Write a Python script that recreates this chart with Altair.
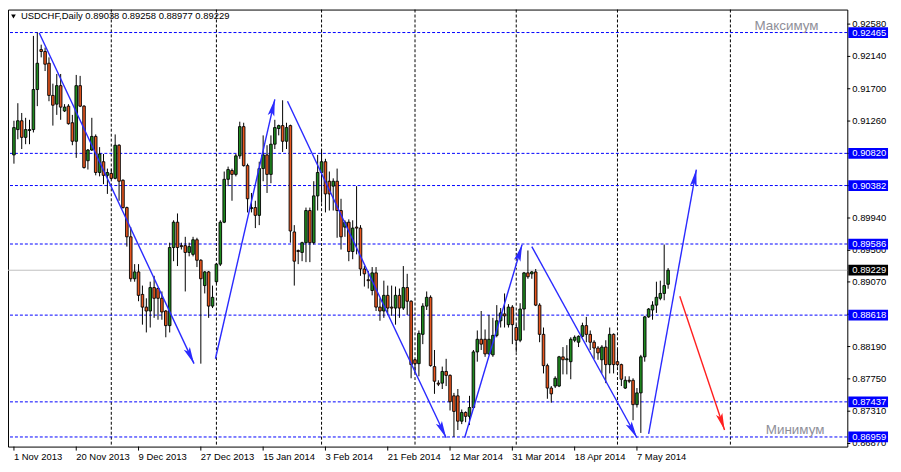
import math
import altair as alt
import pandas as pd

# ---------------- data ----------------
symbol = "USDCHF,Daily"

opens = [0.90799,0.91144,0.91264,0.91038,0.91131,0.91144,0.91689,0.92233,0.92207,0.92047,
         0.91609,0.91490,0.91742,0.91397,0.91463,0.91237,0.90985,0.91742,0.91463,0.90720,
         0.90866,0.91051,0.90560,0.90706,0.90521,0.90547,0.90480,0.90931,0.90454,0.90082,
         0.89684,0.89113,0.89206,0.88900,0.88727,0.88674,0.88993,0.88980,0.88847,0.88674,
         0.88475,0.89538,0.89883,0.89564,0.89564,0.89471,0.89445,0.89644,0.89365,0.89020,
         0.89206,0.88741,0.89073,0.89312,0.89883,0.90467,0.90587,0.90534,0.90786,0.91184,
         0.90653,0.90069,0.90082,0.89976,0.90613,0.90799,0.90534,0.90945,0.91158,0.91198,
         0.90985,0.91198,0.89750,0.89498,0.89471,0.89604,0.90042,0.89604,0.90241,0.90560,
         0.90706,0.90441,0.90374,0.90441,0.90042,0.89816,0.89883,0.89484,0.89816,0.89803,
         0.89246,0.89100,0.88953,0.89193,0.88727,0.88674,0.88887,0.88727,0.88714,0.88887,
         0.88714,0.88993,0.88807,0.88010,0.87957,0.88356,0.88741,0.88860,0.87917,0.87692,
         0.87692,0.87851,0.87798,0.87519,0.87519,0.87174,0.87293,0.87240,0.87360,0.88117,
         0.88289,0.88289,0.88090,0.88077,0.88342,0.88541,0.88634,0.88488,0.88727,0.88449,
         0.88276,0.88701,0.89193,0.89180,0.89206,0.88754,0.88356,0.87930,0.87625,0.87652,
         0.87652,0.88050,0.88010,0.87984,0.88276,0.88249,0.88329,0.88475,0.88356,0.88249,
         0.88170,0.88010,0.88183,0.87944,0.88356,0.87984,0.87944,0.87625,0.87731,0.87731,
         0.87399,0.87559,0.88050,0.88594,0.88688,0.88754,0.88847,0.88913,0.89038]
highs = [0.91264,0.91503,0.91370,0.91304,0.91277,0.92419,0.92465,0.92300,0.92260,0.92127,
         0.91769,0.91901,0.91901,0.91490,0.91490,0.91344,0.91888,0.91875,0.91476,0.90879,
         0.91304,0.91078,0.90905,0.90812,0.90613,0.90613,0.91078,0.90945,0.90467,0.90095,
         0.89816,0.89312,0.89312,0.89020,0.88847,0.89073,0.89153,0.88993,0.88940,0.88688,
         0.89604,0.89909,0.90002,0.89604,0.89684,0.89604,0.89684,0.89671,0.89379,0.89219,
         0.89219,0.89020,0.89326,0.89909,0.90573,0.90640,0.90613,0.90812,0.91251,0.91237,
         0.90680,0.90281,0.90175,0.90706,0.91065,0.90931,0.91065,0.91277,0.91211,0.91543,
         0.91237,0.91211,0.89843,0.89511,0.89617,0.90082,0.90082,0.90441,0.90799,0.90866,
         0.90746,0.90573,0.90480,0.90613,0.90202,0.89909,0.89922,0.89909,0.90374,0.89843,
         0.89286,0.89219,0.89272,0.89272,0.88847,0.89087,0.89020,0.89020,0.89007,0.88980,
         0.89286,0.89180,0.88820,0.88023,0.88409,0.88780,0.88940,0.88887,0.88143,0.87731,
         0.87917,0.88023,0.87811,0.87559,0.87612,0.87333,0.87307,0.87519,0.88143,0.88409,
         0.88674,0.88422,0.88621,0.88581,0.88754,0.88714,0.88913,0.88767,0.88754,0.88488,
         0.88780,0.89206,0.89498,0.89219,0.89246,0.88780,0.88449,0.87957,0.87652,0.87785,
         0.88063,0.88183,0.88209,0.88316,0.88342,0.88342,0.88515,0.88594,0.88409,0.88276,
         0.88196,0.88209,0.88276,0.88449,0.88369,0.88156,0.87957,0.87785,0.87785,0.87758,
         0.87625,0.88077,0.88608,0.88714,0.88807,0.89073,0.89087,0.89578,0.89258]
lows = [0.90680,0.91012,0.90879,0.90945,0.90945,0.91105,0.91463,0.92127,0.91941,0.91530,
        0.91198,0.91344,0.91277,0.91383,0.91211,0.90931,0.90759,0.91450,0.90613,0.90600,
        0.90852,0.90521,0.90507,0.90401,0.90268,0.90467,0.90467,0.90175,0.90069,0.89551,
        0.89073,0.89073,0.88807,0.88488,0.88382,0.88449,0.88581,0.88555,0.88555,0.88316,
        0.88382,0.89352,0.89286,0.89511,0.88940,0.89418,0.89418,0.89272,0.87957,0.88913,
        0.88581,0.88714,0.89047,0.89286,0.89870,0.90374,0.90175,0.90507,0.90746,0.90640,
        0.90016,0.90016,0.89803,0.89843,0.90441,0.90281,0.90414,0.90879,0.91065,0.90839,
        0.90879,0.89604,0.89020,0.89312,0.89352,0.89339,0.89339,0.89578,0.90042,0.90148,
        0.90016,0.90042,0.90042,0.89671,0.89511,0.89684,0.89352,0.89379,0.89445,0.89153,
        0.89007,0.88980,0.88887,0.88674,0.88541,0.88581,0.88621,0.88608,0.88488,0.88581,
        0.88688,0.88621,0.87758,0.87824,0.87785,0.88223,0.88688,0.87917,0.87546,0.87652,
        0.87612,0.87652,0.87320,0.86959,0.87054,0.87134,0.87160,0.87121,0.87346,0.87984,
        0.88143,0.88050,0.88077,0.88050,0.88316,0.88449,0.88449,0.88449,0.88223,0.88117,
        0.88249,0.88409,0.89113,0.89113,0.88741,0.88249,0.87824,0.87479,0.87426,0.87625,
        0.87638,0.87811,0.87811,0.87745,0.88249,0.88183,0.88316,0.88249,0.88143,0.88023,
        0.88010,0.87824,0.87692,0.87824,0.87824,0.87917,0.87652,0.87612,0.87692,0.87187,
        0.87360,0.87014,0.87984,0.88581,0.88555,0.88648,0.88820,0.88820,0.88977]
closes = [0.91171,0.91264,0.91038,0.91144,0.91144,0.91689,0.92047,0.92207,0.92034,0.91609,
          0.91476,0.91742,0.91450,0.91450,0.91224,0.90985,0.91742,0.91463,0.90627,0.90866,
          0.91051,0.90560,0.90812,0.90521,0.90560,0.90480,0.90931,0.90441,0.90082,0.89684,
          0.89113,0.89206,0.88887,0.88727,0.88674,0.88993,0.88847,0.88847,0.88661,0.88475,
          0.89538,0.89883,0.89538,0.89551,0.89471,0.89551,0.89644,0.89365,0.89113,0.89206,
          0.88741,0.88860,0.89312,0.89883,0.90467,0.90600,0.90534,0.90786,0.91184,0.90653,
          0.90202,0.90082,0.89976,0.90613,0.90799,0.90534,0.90945,0.91171,0.91198,0.90985,
          0.91171,0.89763,0.89352,0.89484,0.89604,0.90042,0.89604,0.90241,0.90560,0.90706,
          0.90268,0.90268,0.90441,0.90042,0.89684,0.89883,0.89484,0.89803,0.89803,0.89246,
          0.89180,0.89087,0.89193,0.88727,0.88674,0.88887,0.88714,0.88714,0.88887,0.88714,
          0.88993,0.88807,0.87944,0.87957,0.88369,0.88741,0.88860,0.87930,0.87718,0.87678,
          0.87851,0.87798,0.87439,0.87307,0.87174,0.87293,0.87240,0.87360,0.88117,0.88289,
          0.88223,0.88090,0.88289,0.88342,0.88541,0.88648,0.88608,0.88727,0.88488,0.88276,
          0.88701,0.89193,0.89140,0.89206,0.88754,0.88356,0.87930,0.87625,0.87546,0.87758,
          0.88050,0.88010,0.88023,0.88289,0.88316,0.88329,0.88475,0.88356,0.88249,0.88170,
          0.88104,0.88183,0.87944,0.88356,0.87944,0.87944,0.87745,0.87731,0.87718,0.87399,
          0.87559,0.88050,0.88594,0.88701,0.88754,0.88860,0.88913,0.89020,0.89229]

date_label_bars = [0, 16, 32, 48, 64, 80, 96, 112, 128, 144, 160]
date_labels = ["1 Nov 2013", "20 Nov 2013", "9 Dec 2013", "27 Dec 2013", "15 Jan 2014",
               "3 Feb 2014", "21 Feb 2014", "12 Mar 2014", "31 Mar 2014", "18 Apr 2014",
               "7 May 2014"]
month_start_bars = [25, 52, 79, 103, 129, 155, 184]

price_ticks = [0.92580, 0.92140, 0.91700, 0.91260, 0.90820, 0.90380, 0.89940,
               0.89500, 0.89070, 0.88630, 0.88190, 0.87750, 0.87310, 0.86870]
levels = [0.92465, 0.90820, 0.90382, 0.89586, 0.88618, 0.87437, 0.86959]
bid_price = 0.89229
level_max_text = "Максимум"
level_min_text = "Минимум"

# arrows drawn on the chart: start bar, start price, end bar, end price
arrow_x1 = [6.5, 51.75, 70.25, 115.75, 133.0, 163.0, 171.0]
arrow_p1 = [0.92459, 0.88024, 0.91530, 0.86948, 0.89551, 0.87001, 0.88874]
arrow_x2 = [46.25, 67.0, 111.0, 130.5, 160.0, 175.25, 182.5]
arrow_p2 = [0.87957, 0.91556, 0.86948, 0.89577, 0.86948, 0.90600, 0.87054]
arrow_colors = ["#2a2aff"] * 6 + ["#ff2020"]

# ---------------- layout / style ----------------
W, H = 845, 440
X_MIN, X_MAX = -0.25, 212.75
Y_MIN, Y_MAX = 0.86828, 0.92778
FONT = "Liberation Sans"
FS = 9.5
GREEN = "#1f8a1f"
ORANGE = "#e8561e"
LEVEL_BLUE = "#0000ff"

xs = alt.Scale(domain=[X_MIN, X_MAX], nice=False, zero=False)
ys = alt.Scale(domain=[Y_MIN, Y_MAX], nice=False, zero=False)


def X(field):
    return alt.X(field, scale=xs, axis=None, title=None)


def Y(field):
    return alt.Y(field, scale=ys, axis=None, title=None)


df = pd.DataFrame({"i": list(range(len(opens))), "o": opens, "h": highs, "l": lows, "c": closes})
df["bull"] = df["c"] >= df["o"]
df["top"] = df[["o", "c"]].max(axis=1)
df["bot"] = df[["o", "c"]].min(axis=1)

# vertical month grid
grid = alt.Chart(pd.DataFrame({"m": month_start_bars})).mark_rule(
    color="black", strokeDash=[3, 2], strokeWidth=1).encode(x=X("m:Q"))

# horizontal levels
lev_df = pd.DataFrame({"p": levels})
lev_df["lab"] = [f"{v:.5f}" for v in levels]
lev_lines = alt.Chart(lev_df).mark_rule(color=LEVEL_BLUE, strokeDash=[3, 2], strokeWidth=1).encode(
    y=Y("p:Q"))

bid_df = pd.DataFrame({"p": [bid_price], "lab": [f"{bid_price:.5f}"]})
bid_line = alt.Chart(bid_df).mark_rule(color="#c0c0c0", strokeWidth=1).encode(y=Y("p:Q"))

# candles
wicks = alt.Chart(df).mark_rule(color="black", strokeWidth=1).encode(
    x=X("i:Q"), y=Y("l:Q"), y2="h:Q")
bodies = alt.Chart(df).mark_bar(size=2.6, stroke="black", strokeWidth=0.9).encode(
    x=X("i:Q"), y=Y("bot:Q"), y2="top:Q",
    fill=alt.condition("datum.bull", alt.value(GREEN), alt.value(ORANGE)))

# arrows
px_x = W / (X_MAX - X_MIN)
px_y = H / (Y_MAX - Y_MIN)
angs = []
for a, b, c, d in zip(arrow_x1, arrow_p1, arrow_x2, arrow_p2):
    sx = (c - a) * px_x
    sy = -(d - b) * px_y
    angs.append(math.degrees(math.atan2(sx, -sy)) % 360)
arr_df = pd.DataFrame({"x1": arrow_x1, "p1": arrow_p1, "x2": arrow_x2, "p2": arrow_p2,
                       "col": arrow_colors, "ang": angs})
arr_lines = alt.Chart(arr_df).mark_rule(strokeWidth=1.4).encode(
    x=X("x1:Q"), x2="x2:Q", y=Y("p1:Q"), y2="p2:Q",
    color=alt.Color("col:N", scale=None))
ARROW_PATH = "M0,0 L0.2,1 L0,0.8 L-0.2,1 Z"
arr_heads = alt.Chart(arr_df).mark_point(shape=ARROW_PATH, size=1156, filled=True, opacity=1,
                                         strokeWidth=0).encode(
    x=X("x2:Q"), y=Y("p2:Q"),
    angle=alt.Angle("ang:Q", scale=None), color=alt.Color("col:N", scale=None))

# price scale (right) : ticks + labels
pt_df = pd.DataFrame({"p": price_ticks, "lab": [f"{v:.5f}" for v in price_ticks]})
p_ticks = alt.Chart(pt_df).mark_rule(color="black", strokeWidth=1).encode(
    x=alt.value(W), x2=alt.value(W + 3), y=Y("p:Q"))
p_labels = alt.Chart(pt_df).mark_text(align="left", baseline="middle", color="black",
                                      font=FONT, fontSize=FS).encode(
    x=alt.value(W + 5), y=Y("p:Q"), text="lab:N")

# time scale (bottom) : ticks + labels
dt_df = pd.DataFrame({"b": date_label_bars, "lab": date_labels})
d_ticks = alt.Chart(dt_df).mark_rule(color="black", strokeWidth=1).encode(
    x=X("b:Q"), y=alt.value(H), y2=alt.value(H + 4))
d_labels = alt.Chart(dt_df).mark_text(align="left", baseline="top", color="black",
                                      font=FONT, fontSize=FS).encode(
    x=X("b:Q"), y=alt.value(H + 6), text="lab:N")

# right-side price boxes
BOX_PATH = "M-1,-0.27 L1,-0.27 L1,0.27 L-1,0.27 Z"
lev_boxes = alt.Chart(lev_df).mark_point(shape=BOX_PATH, size=1600, filled=True, opacity=1,
                                         strokeWidth=0, color=LEVEL_BLUE).encode(
    x=alt.value(W + 21), y=Y("p:Q"))
lev_text = alt.Chart(lev_df).mark_text(align="left", baseline="middle", color="white",
                                       font=FONT, fontSize=FS).encode(
    x=alt.value(W + 5), y=Y("p:Q"), text="lab:N")
bid_box = alt.Chart(bid_df).mark_point(shape=BOX_PATH, size=1600, filled=True, opacity=1,
                                       strokeWidth=0, color="black").encode(
    x=alt.value(W + 21), y=Y("p:Q"))
bid_text = alt.Chart(bid_df).mark_text(align="left", baseline="middle", color="white",
                                       font=FONT, fontSize=FS).encode(
    x=alt.value(W + 5), y=Y("p:Q"), text="lab:N")

# max / min captions
cap_df = pd.DataFrame({"p": [max(levels), min(levels)], "t": [level_max_text, level_min_text],
                       "xr": [816, 822]})
caps = alt.Chart(cap_df).mark_text(align="right", baseline="alphabetic", dy=-3, color="#8e8e98",
                                   font=FONT, fontSize=13.5).encode(
    x=alt.X("xr:Q", scale=None, axis=None), y=Y("p:Q"), text="t:N")

# header
last = df.iloc[-1]
header_txt = f"{symbol}  {last.o:.5f} {last.h:.5f} {last.l:.5f} {last.c:.5f}"
header = alt.Chart(pd.DataFrame({"t": [header_txt]})).mark_text(
    align="left", baseline="middle", color="black", font=FONT, fontSize=FS).encode(
    x=alt.value(13), y=alt.value(7), text="t:N")
tri = alt.Chart(pd.DataFrame({"t": [0]})).mark_point(
    shape="triangle-down", size=22, filled=True, color="black", opacity=1).encode(
    x=alt.value(5.5), y=alt.value(7))

chart = alt.layer(grid, lev_lines, bid_line, wicks, bodies, arr_lines, arr_heads,
                  p_ticks, p_labels, d_ticks, d_labels,
                  lev_boxes, lev_text, bid_box, bid_text, caps, header, tri).properties(
    width=W, height=H,
    padding={"left": 0, "top": 0, "right": 46, "bottom": 22},
    autosize=alt.AutoSizeParams(type="none"),
    background="white",
).configure_view(stroke="black", strokeWidth=1)

chart.save("out.html", embed_options={"renderer": "svg", "actions": False})
